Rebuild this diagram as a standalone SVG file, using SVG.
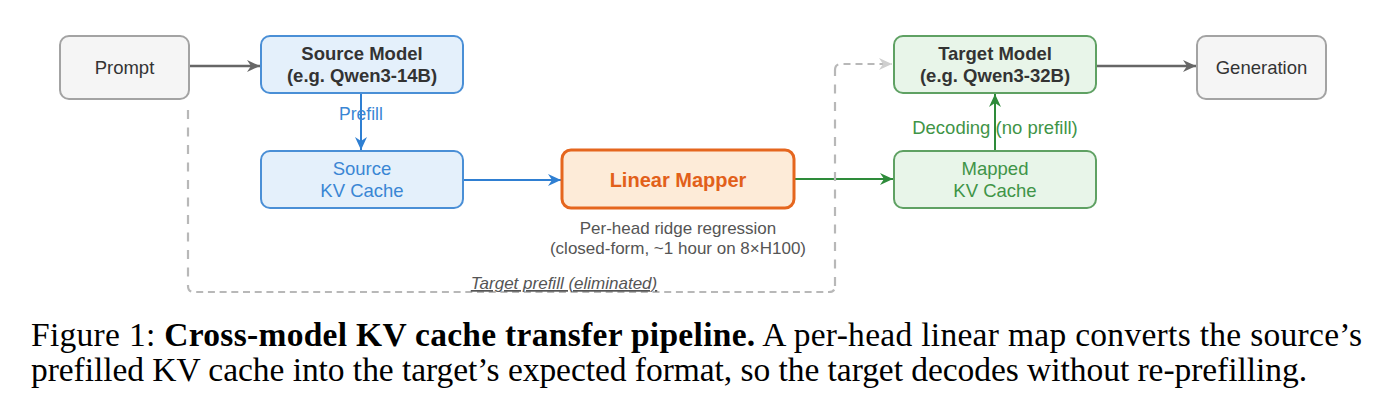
<svg xmlns="http://www.w3.org/2000/svg" width="1400" height="408" viewBox="0 0 1400 408">
<defs>
<style>
.t{font-family:"Liberation Sans",Arial,sans-serif;text-anchor:middle}
.gray{fill:#f5f5f5;stroke:#a3a3a3;stroke-width:2}
.blue{fill:#e4f0fb;stroke:#4a8fd6;stroke-width:2}
.green{fill:#e8f5e9;stroke:#5fa163;stroke-width:2}
.orange{fill:#fdebd8;stroke:#e5661e;stroke-width:3}
.title{font-size:18.5px;font-weight:bold;fill:#333}
.body{font-size:18.5px;fill:#333}
.cap{font-family:"Liberation Serif","Times New Roman",serif;font-size:33.5px;fill:#000}
</style>
<marker id="ah-gray" markerUnits="userSpaceOnUse" markerWidth="14" markerHeight="12" refX="13" refY="6" orient="auto"><path d="M0,0 L13,6 L0,12 L4,6 Z" fill="#666"/></marker>
<marker id="ah-blue" markerUnits="userSpaceOnUse" markerWidth="14" markerHeight="12" refX="13" refY="6" orient="auto"><path d="M0,0 L13,6 L0,12 L4,6 Z" fill="#2f7fd2"/></marker>
<marker id="ah-green" markerUnits="userSpaceOnUse" markerWidth="14" markerHeight="12" refX="13" refY="6" orient="auto"><path d="M0,0 L13,6 L0,12 L4,6 Z" fill="#2e8b3a"/></marker>
<marker id="ah-light" markerUnits="userSpaceOnUse" markerWidth="14" markerHeight="12" refX="13" refY="6" orient="auto"><path d="M0,0 L13,6 L0,12 L4,6 Z" fill="#cfcfcf"/></marker>
</defs>
<rect width="1400" height="408" fill="#fff"/>

<g id="connectors" fill="none">
  <line x1="189" y1="66" x2="260" y2="66" stroke="#666" stroke-width="2.5" marker-end="url(#ah-gray)"/>
  <line x1="1096" y1="66" x2="1196" y2="66" stroke="#666" stroke-width="2.5" marker-end="url(#ah-gray)"/>
  <line x1="361" y1="93" x2="361" y2="150" stroke="#2f7fd2" stroke-width="2" marker-end="url(#ah-blue)"/>
  <line x1="463" y1="180" x2="561" y2="180" stroke="#2f7fd2" stroke-width="2" marker-end="url(#ah-blue)"/>
  <line x1="795" y1="179" x2="893" y2="179" stroke="#2e8b3a" stroke-width="2" marker-end="url(#ah-green)"/>
  <line x1="995" y1="151" x2="995" y2="94" stroke="#2e8b3a" stroke-width="2" marker-end="url(#ah-green)"/>
  <g id="target-prefill" stroke="#b8b8b8" stroke-width="2.2">
    <path d="M188,110 L188,286" stroke-dasharray="9 8.5"/>
    <path d="M188,286 Q188,292 194,292 L829,292 Q835,292 835,286" stroke-dasharray="7 4.7"/>
    <path d="M835,286 L835,70" stroke-dasharray="9 8.5"/>
    <path d="M835,70 Q835,64 841,64 L892,64" stroke-dasharray="7 5" marker-end="url(#ah-light)"/>
  </g>
  <text class="t" x="361" y="120" font-size="17.5" fill="#3a86d4">Prefill</text>
  <text class="t" x="995" y="134" font-size="18.5" fill="#3f9447">Decoding (no prefill)</text>
  <text class="t" x="564" y="289" font-size="17" font-style="italic" text-decoration="underline" fill="#555">Target prefill (eliminated)</text>
</g>

<g id="prompt">
  <rect class="gray" x="60" y="36" width="129" height="63" rx="9"/>
  <text class="t body" x="124.5" y="74">Prompt</text>
</g>
<g id="source-model">
  <rect class="blue" x="261" y="36" width="202" height="57" rx="9"/>
  <text class="t title" x="362" y="60">Source Model</text>
  <text class="t title" x="362" y="82">(e.g. Qwen3-14B)</text>
</g>
<g id="source-kv">
  <rect class="blue" x="261" y="151" width="202" height="57" rx="9"/>
  <text class="t body" x="362" y="175" style="fill:#3a86d4">Source</text>
  <text class="t body" x="362" y="197" style="fill:#3a86d4">KV Cache</text>
</g>
<g id="linear-mapper">
  <rect class="orange" x="562" y="150" width="232" height="58" rx="9"/>
  <text class="t" x="678" y="187" font-size="20" font-weight="bold" fill="#e2601a">Linear Mapper</text>
  <text class="t" x="678" y="234" font-size="17" fill="#555">Per-head ridge regression</text>
  <text class="t" x="678" y="254" font-size="17" fill="#555">(closed-form, ~1 hour on 8×H100)</text>
</g>
<g id="target-model">
  <rect class="green" x="894" y="36" width="202" height="57" rx="9"/>
  <text class="t title" x="995" y="60">Target Model</text>
  <text class="t title" x="995" y="82">(e.g. Qwen3-32B)</text>
</g>
<g id="mapped-kv">
  <rect class="green" x="894" y="151" width="202" height="57" rx="9"/>
  <text class="t body" x="995" y="175" style="fill:#3f9447">Mapped</text>
  <text class="t body" x="995" y="197" style="fill:#3f9447">KV Cache</text>
</g>
<g id="generation">
  <rect class="gray" x="1197" y="36" width="129" height="63" rx="9"/>
  <text class="t body" x="1261.5" y="74">Generation</text>
</g>

<g id="caption">
  <text class="cap" x="31" y="346" textLength="1331" lengthAdjust="spacing">Figure 1: <tspan font-weight="bold">Cross-model KV cache transfer pipeline.</tspan> A per-head linear map converts the source’s</text>
  <text class="cap" x="31" y="381" textLength="1276" lengthAdjust="spacing">prefilled KV cache into the target’s expected format, so the target decodes without re-prefilling.</text>
</g>
</svg>
